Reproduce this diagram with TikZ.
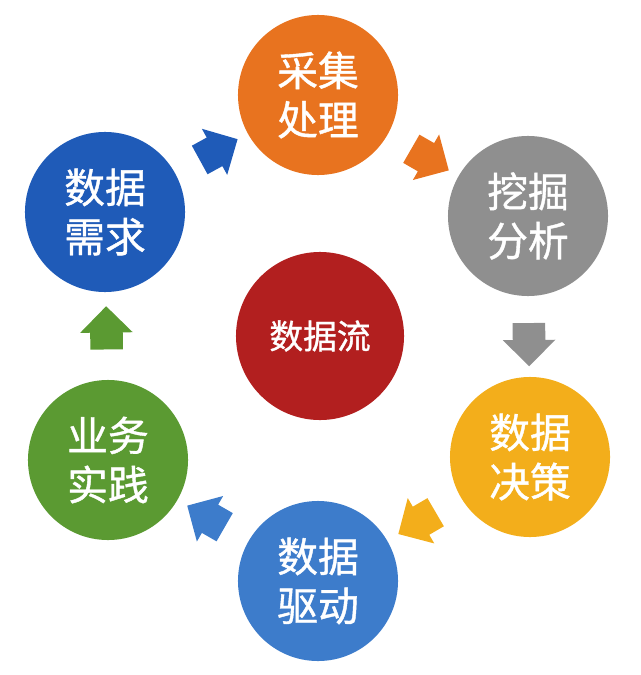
\documentclass[tikz,border=0pt]{standalone}
\usepackage{fontspec}
\usepackage{xcolor}
\usetikzlibrary{shapes.arrows}
\newfontfamily\cjk{Noto Sans CJK SC}[FakeBold=1]
\definecolor{orange}{HTML}{E8731F}
\definecolor{grey}{HTML}{8F8F8F}
\definecolor{amber}{HTML}{F3AE1B}
\definecolor{sky}{HTML}{3D7CCB}
\definecolor{navy}{HTML}{1F5BB8}
\definecolor{leaf}{HTML}{5B9A32}
\definecolor{wine}{HTML}{B21F1F}

\begin{document}
\begin{tikzpicture}[x=0.025cm,y=-0.025cm,
    every node/.style={font=\cjk\fontsize{29}{35}\selectfont,text=white},
    stage/.style={circle,minimum size=4cm,inner sep=0pt,align=center},
    flow/.style={single arrow,draw=none,fill=#1,minimum height=1.08cm,inner xsep=0pt,inner ysep=0.4cm,
      single arrow head extend=0.25cm,sloped,allow upside down}]
    \useasboundingbox (0,0) rectangle (640,675);
    \node[stage,fill=orange] (collect) at (318,95) {采集\\处理};
    \node[stage,fill=grey] (mine) at (528,216) {挖掘\\分析};
    \node[stage,fill=amber] (decide) at (530,457) {数据\\决策};
    \node[stage,fill=sky] (drive) at (318,581) {数据\\驱动};
    \node[stage,fill=leaf] (practice) at (108,460) {业务\\实践};
    \node[stage,fill=navy] (demand) at (105,212) {数据\\需求};
    \node[circle,minimum size=4.2cm,fill=wine,font=\cjk\fontsize{24}{28}\selectfont] (stream) at (320,336) {数据流};
    \path (demand) -- node[flow=navy] {} (collect);
    \path (collect) -- node[flow=orange] {} (mine);
    \path (mine) -- node[flow=grey] {} (decide);
    \path (decide) -- node[flow=amber] {} (drive);
    \path (drive) -- node[flow=sky] {} (practice);
    \path (practice) -- node[flow=leaf] {} (demand);
  \end{tikzpicture}
\end{document}
